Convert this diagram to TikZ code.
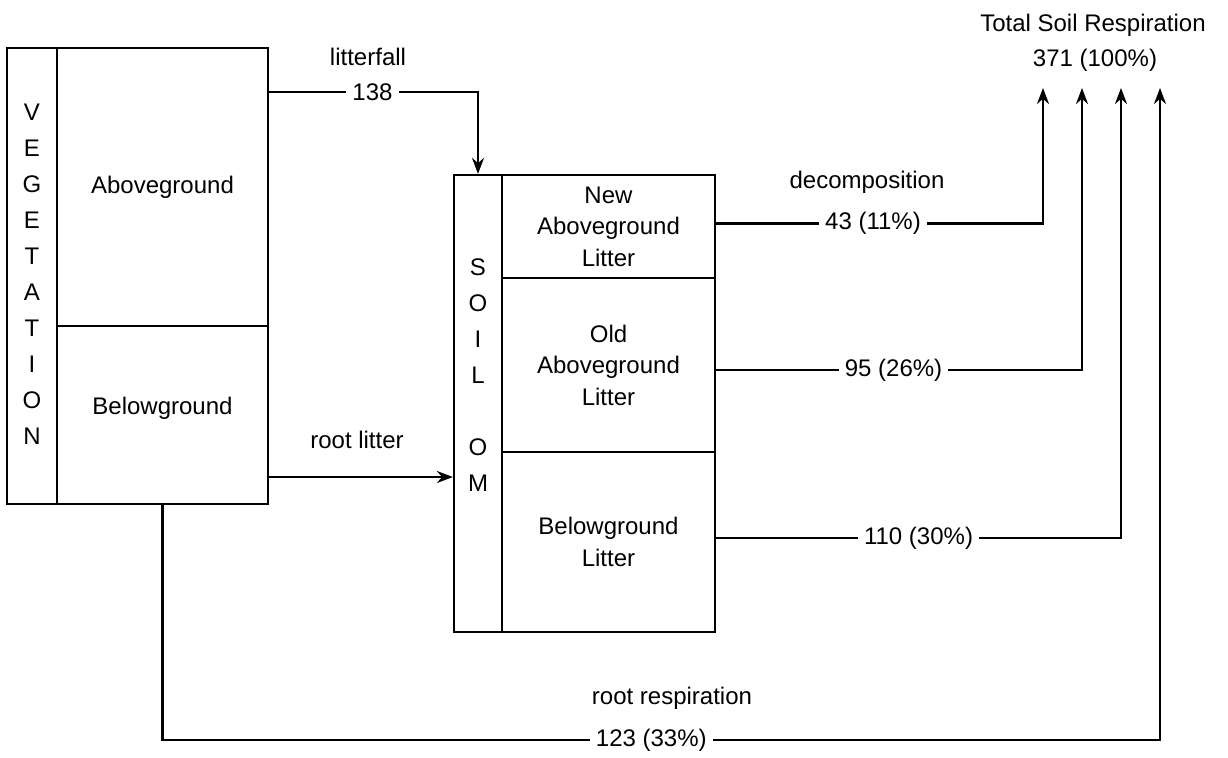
\documentclass[tikz,border=0pt]{standalone}
\usepackage{fontspec}
\setmainfont{Liberation Sans}
\usetikzlibrary{arrows.meta}
\begin{document}
\begin{tikzpicture}[x=0.5pt,y=-0.5pt,
  every node/.style={font=\fontsize{12}{15.75}\selectfont},
  box/.style={draw,line width=1.1pt,inner sep=0pt,align=center},
  arr/.style={line width=1.1pt,-{Stealth[length=8pt,width=6pt]}},
  lbl/.style={fill=white,inner xsep=3pt,inner ysep=1pt},
  txt/.style={inner sep=0pt,align=center},
  letters/.style={txt,font=\fontsize{12}{18}\selectfont}]
\useasboundingbox (0,0) rectangle (1228,757);

% vegetation
\node[box,minimum width=25pt,minimum height=228pt] (vegL) at (32,276) {};
\node[letters] (vegT) at (32,274.5) {V\\E\\G\\E\\T\\A\\T\\I\\O\\N};
\node[box,minimum width=105.5pt,minimum height=139pt] (vegA) at (162.5,187) {Aboveground};
\node[box,minimum width=105.5pt,minimum height=89pt] (vegB) at (162.5,415) {};
\node[txt] (vegBt) at (162.5,408) {Belowground};

% soil OM
\node[box,minimum width=24pt,minimum height=228.5pt] (soilL) at (478,403.5) {};
\node[letters] (soilT) at (478,375) {S\\O\\I\\L\\[18pt]O\\M};
\node[box,minimum width=106.5pt,minimum height=51.5pt] (soilN) at (608.5,226.5) {New\\Aboveground\\Litter};
\node[box,minimum width=106.5pt,minimum height=87pt] (soilO) at (608.5,365) {Old\\Aboveground\\Litter};
\node[box,minimum width=106.5pt,minimum height=90pt] (soilB) at (608.5,542) {Belowground\\Litter};

% top labels
\node[txt] (tsr) at (1093,25) {Total Soil Respiration};
\node[txt] (n371) at (1095,60) {371 (100\%)};
\node[txt] (lfall) at (368,57) {litterfall};
\node[txt] (rlit) at (357,440) {root litter};
\node[txt] (decomp) at (867,182) {decomposition};
\node[txt] (rresp) at (672,698) {root respiration};

\coordinate (t1) at (1043,88);
\coordinate (t2) at (1082,88);
\coordinate (t3) at (1121,88);
\coordinate (t4) at (1160,88);
\coordinate (rr) at (162.5,740);

% litterfall
\draw[arr] ([yshift=-22.5pt]vegA.north east) coordinate (lf0)
  -- node[lbl,pos=0.495] (n138) {138} (soilL.north |- lf0) -- (soilL.north);
% root litter
\draw[arr] ([yshift=-31pt]vegB.east) coordinate (rl0) -- (soilL.west |- rl0);
% decomposition flows
\draw[arr] ([yshift=1.5pt]soilN.east) coordinate (d1)
  -- node[lbl,pos=0.48] (n43) {43 (11\%)} (t1 |- d1) -- (t1);
\draw[arr] ([yshift=-2.5pt]soilO.east) coordinate (d2)
  -- node[lbl,pos=0.485] (n95) {95 (26\%)} (t2 |- d2) -- (t2);
\draw[arr] ([yshift=2pt]soilB.east) coordinate (d3)
  -- node[lbl,pos=0.5] (n110) {110 (30\%)} (t3 |- d3) -- (t3);
% root respiration
\draw[arr] (vegB.south) -- (rr)
  -- node[lbl,pos=0.49] (n123) {123 (33\%)} (t4 |- rr) -- (t4);
\end{tikzpicture}
\end{document}
